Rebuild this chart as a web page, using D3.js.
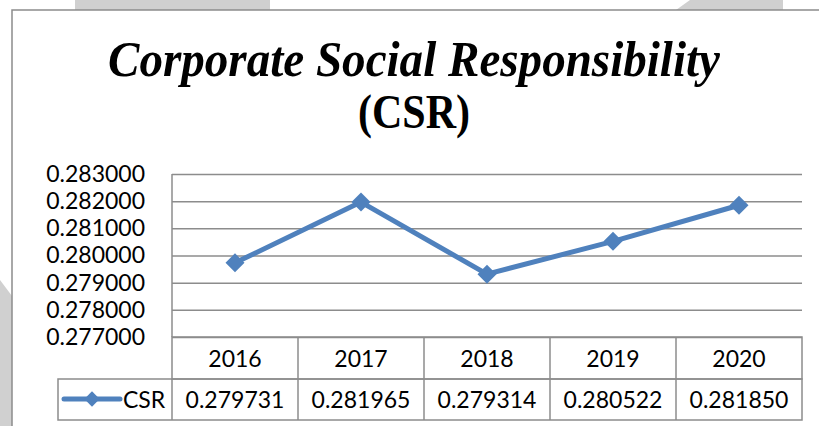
<!DOCTYPE html>
<html>
<head>
<meta charset="utf-8">
<script src="https://cdn.jsdelivr.net/npm/d3@7"></script>
<style>
  html, body { margin: 0; padding: 0; background: #fff; }
  svg { display: block; }
</style>
</head>
<body>
<svg id="svg" width="819" height="426"></svg>
<script>
const years = ["2016", "2017", "2018", "2019", "2020"];
const csr = [0.279731, 0.281965, 0.279314, 0.280522, 0.281850];
const yTicks = [0.277, 0.278, 0.279, 0.280, 0.281, 0.282, 0.283];
const seriesName = "CSR";

const svg = d3.select("#svg");
const gridColor = "#8c8c8c";
const blue = "#4f81bd";
const labelFont = "Lato, sans-serif";

// faint grey page shapes around the frame
svg.append("polygon").attr("points", "75,0 270,0 270,10 75,10").attr("fill", "#d0d0d0");
svg.append("polygon").attr("points", "690,0 783,0 783,10 676,10").attr("fill", "#d0d0d0");
svg.append("polygon").attr("points", "0,280 12,296 12,426 0,426").attr("fill", "#d0d0d0");

// chart frame
svg.append("path").attr("d", "M12,426 V10 H819").attr("fill", "none")
    .attr("stroke", gridColor).attr("stroke-width", 1.5);

// title
svg.append("text")
    .attr("x", 414).attr("y", 76)
    .attr("text-anchor", "middle")
    .attr("font-family", "Liberation Serif, Times New Roman, serif")
    .attr("font-weight", "bold").attr("font-style", "italic")
    .attr("font-size", 50)
    .attr("textLength", 612).attr("lengthAdjust", "spacingAndGlyphs")
    .text("Corporate Social Responsibility");
svg.append("text")
    .attr("x", 414).attr("y", 128)
    .attr("text-anchor", "middle")
    .attr("font-family", "Liberation Serif, Times New Roman, serif")
    .attr("font-weight", "bold")
    .attr("font-size", 49)
    .attr("textLength", 112).attr("lengthAdjust", "spacingAndGlyphs")
    .text("(CSR)");

const plotL = 172, plotR = 802, plotT = 174, plotB = 337;

const x = d3.scaleBand().domain(years).range([plotL, plotR]);
const y = d3.scaleLinear().domain([0.277, 0.283]).range([plotB, plotT]);

// gridlines
const grid = svg.append("g")
    .attr("transform", `translate(${plotL},0)`)
    .call(d3.axisLeft(y).tickValues(yTicks).tickSize(-(plotR - plotL)).tickFormat(""));
grid.select(".domain").remove();
grid.selectAll("line").attr("stroke", gridColor).attr("stroke-width", 1.5);

svg.append("line").attr("x1", plotL).attr("x2", plotL).attr("y1", plotT).attr("y2", plotB)
    .attr("stroke", gridColor).attr("stroke-width", 1.5);

// y labels
const yAxis = svg.append("g")
    .attr("transform", "translate(145,0)")
    .call(d3.axisLeft(y).tickValues(yTicks).tickSize(0).tickPadding(0).tickFormat(d3.format(".6f")));
yAxis.select(".domain").remove();
yAxis.selectAll("text")
    .attr("font-family", labelFont).attr("font-size", 23).attr("fill", "#000");

// data table
const rowTop = plotB, rowMid = 379, rowBot = 420, legLeft = 58;
const tbl = svg.append("g").attr("stroke", gridColor).attr("stroke-width", 1.5).attr("fill", "none");
tbl.append("rect").attr("x", plotL).attr("y", rowTop).attr("width", plotR - plotL).attr("height", rowMid - rowTop);
tbl.append("rect").attr("x", legLeft).attr("y", rowMid).attr("width", plotR - legLeft).attr("height", rowBot - rowMid);
tbl.selectAll("line.col").data(years.slice(1)).join("line")
    .attr("x1", d => x(d)).attr("x2", d => x(d)).attr("y1", rowTop).attr("y2", rowBot);
tbl.append("line").attr("x1", plotL).attr("x2", plotL).attr("y1", rowMid).attr("y2", rowBot);

svg.append("g").selectAll("text").data(years).join("text")
    .attr("x", d => x(d) + x.bandwidth() / 2).attr("y", 367)
    .attr("text-anchor", "middle")
    .attr("font-family", labelFont).attr("font-size", 23)
    .text(d => d);

svg.append("g").selectAll("text").data(csr).join("text")
    .attr("x", (d, i) => x(years[i]) + x.bandwidth() / 2).attr("y", 408)
    .attr("text-anchor", "middle")
    .attr("font-family", labelFont).attr("font-size", 23)
    .text(d => d3.format(".6f")(d));

// legend key
svg.append("line").attr("x1", 64).attr("x2", 120).attr("y1", 399).attr("y2", 399)
    .attr("stroke", blue).attr("stroke-width", 5).attr("stroke-linecap", "round");
svg.append("path").attr("d", d3.symbol(d3.symbolDiamond2, 150)())
    .attr("transform", "translate(92,399)").attr("fill", blue);
svg.append("text").attr("x", 123).attr("y", 408)
    .attr("font-family", labelFont).attr("font-size", 23)
    .text(seriesName);

// series line
const pts = csr.map((v, i) => [x(years[i]) + x.bandwidth() / 2, y(v)]);
svg.append("path").datum(pts)
    .attr("d", d3.line())
    .attr("fill", "none").attr("stroke", blue).attr("stroke-width", 5)
    .attr("stroke-linejoin", "round");
svg.append("g").selectAll("path").data(pts).join("path")
    .attr("d", d3.symbol(d3.symbolDiamond2, 230)())
    .attr("transform", d => `translate(${d[0]},${d[1]})`)
    .attr("fill", blue);
</script>
</body>
</html>
